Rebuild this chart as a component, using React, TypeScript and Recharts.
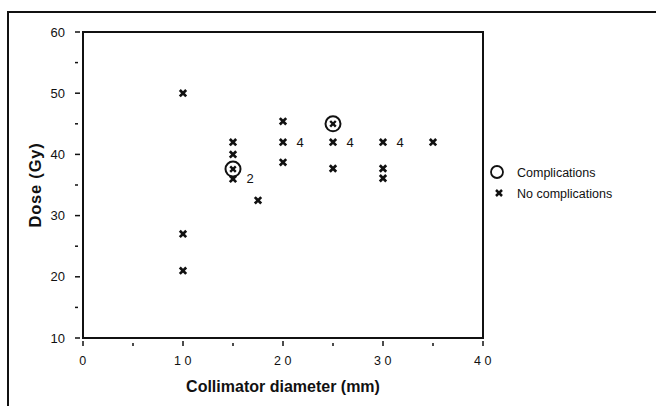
import React from 'react';
import {
  ScatterChart, Scatter, XAxis, YAxis, ReferenceArea, LabelList,
} from 'recharts';

// Collimator diameter (mm) / Dose (Gy)
const noComplications = [
  { x: 10, y: 50 },
  { x: 10, y: 27 },
  { x: 10, y: 21 },
  { x: 15, y: 42 },
  { x: 15, y: 40 },
  { x: 15, y: 36, n: '2' },
  { x: 17.5, y: 32.5 },
  { x: 20, y: 45.4 },
  { x: 20, y: 42, n: '4' },
  { x: 20, y: 38.7 },
  { x: 25, y: 42, n: '4' },
  { x: 25, y: 37.7 },
  { x: 30, y: 42, n: '4' },
  { x: 30, y: 37.7 },
  { x: 30, y: 36.1 },
  { x: 35, y: 42 },
];
const complications = [
  { x: 15, y: 37.6 },
  { x: 25, y: 45 },
];
const xTicks = [0, 5, 10, 15, 20, 25, 30, 35, 40];
const yTicks = [10, 15, 20, 25, 30, 35, 40, 45, 50, 55, 60];
const xTitle = 'Collimator diameter (mm)';
const yTitle = 'Dose  (Gy)';
const legendItems = ['Complications', 'No complications'];

const FONT = '"Liberation Sans", Arial, Helvetica, sans-serif';

const Cross = (props: any) => {
  const { cx, cy } = props;
  const s = 3.2;
  return (
    <g stroke="#111" strokeWidth={2.7} strokeLinecap="butt">
      <line x1={cx - s} y1={cy - s} x2={cx + s} y2={cy + s} />
      <line x1={cx - s} y1={cy + s} x2={cx + s} y2={cy - s} />
    </g>
  );
};

const CircledCross = (props: any) => {
  const { cx, cy } = props;
  const s = 2.8;
  return (
    <g stroke="#111" fill="none">
      <circle cx={cx} cy={cy} r={7.5} strokeWidth={2} />
      <line x1={cx - s} y1={cy - s} x2={cx + s} y2={cy + s} strokeWidth={2.4} />
      <line x1={cx - s} y1={cy + s} x2={cx + s} y2={cy - s} strokeWidth={2.4} />
    </g>
  );
};

const XTick = (props: any) => {
  const { x, y, payload } = props;
  const v = payload.value;
  const major = v % 10 === 0;
  return (
    <g>
      <line x1={x} y1={y} x2={x} y2={y - (major ? 5 : 3)} stroke="#111" strokeWidth={1.5} />
      {major && (
        <text x={x + 1.5} y={y + 19} textAnchor="middle" fontFamily={FONT} fontSize={12.5}
          letterSpacing={3.5} fill="#111">{String(v)}</text>
      )}
    </g>
  );
};

const YTick = (props: any) => {
  const { x, y, payload } = props;
  const v = payload.value;
  const major = v % 10 === 0;
  return (
    <g>
      <line x1={x} y1={y} x2={x + (major ? 5 : 3)} y2={y} stroke="#111" strokeWidth={1.5} />
      {major && (
        <text x={x - 10} y={y + 4.5} textAnchor="end" fontFamily={FONT} fontSize={13}
          fill="#111">{String(v)}</text>
      )}
    </g>
  );
};

const LegendBox = () => (
  <svg width={170} height={50} style={{ position: 'absolute', left: 489, top: 162 }}>
    <circle cx={8} cy={10} r={6} stroke="#111" strokeWidth={1.8} fill="none" />
    <text x={28} y={14.5} fontFamily={FONT} fontSize={12.5} fill="#111">{legendItems[0]}</text>
    <g stroke="#111" strokeWidth={2.5}>
      <line x1={7} y1={28} x2={13} y2={34} />
      <line x1={7} y1={34} x2={13} y2={28} />
    </g>
    <text x={28} y={35.5} fontFamily={FONT} fontSize={12.5} fill="#111">{legendItems[1]}</text>
  </svg>
);

export default function App() {
  return (
    <div style={{ position: 'absolute', left: 0, top: 0, width: 656, height: 406, background: '#fff' }}>
      <div style={{ position: 'absolute', left: 7, top: 11, width: 649, height: 395,
        borderLeft: '2px solid #111', borderTop: '2px solid #111' }} />
      <div style={{ position: 'absolute', left: 0, top: 0 }}>
        <ScatterChart width={656} height={406}
          margin={{ top: 32, right: 173, bottom: 38, left: 43 }}>
          <XAxis type="number" dataKey="x" domain={[0, 40]} ticks={xTicks} height={30}
            axisLine={{ stroke: '#111', strokeWidth: 2 }} tickLine={false} tick={<XTick />}
            interval={0}
            label={(p: any) => {
              const vb = p.viewBox;
              return (
                <text x={vb.x + vb.width / 2} y={392} textAnchor="middle" fontFamily={FONT}
                  fontSize={16} fontWeight="bold" fill="#111">{xTitle}</text>
              );
            }} />
          <YAxis type="number" dataKey="y" domain={[10, 60]} ticks={yTicks} width={40}
            axisLine={{ stroke: '#111', strokeWidth: 2 }} tickLine={false} tick={<YTick />}
            interval={0}
            label={(p: any) => {
              const vb = p.viewBox;
              const cy = vb.y + vb.height / 2;
              return (
                <text x={41} y={cy} transform={`rotate(-90 41 ${cy})`} textAnchor="middle"
                  fontFamily={FONT} fontSize={16.5} fontWeight="bold" letterSpacing={0.8}
                  fill="#111">{yTitle}</text>
              );
            }} />
          <ReferenceArea x1={0} x2={40} y1={10} y2={60} fill="none" stroke="#111"
            strokeWidth={2} ifOverflow="visible" />
          <Scatter data={noComplications} shape={<Cross />} isAnimationActive={false}>
            <LabelList dataKey="n" position="right" offset={9} fontFamily={FONT}
              fontSize={13} fill="#111" stroke="none" />
          </Scatter>
          <Scatter data={complications} shape={<CircledCross />} isAnimationActive={false} />
        </ScatterChart>
      </div>
      <LegendBox />
    </div>
  );
}
